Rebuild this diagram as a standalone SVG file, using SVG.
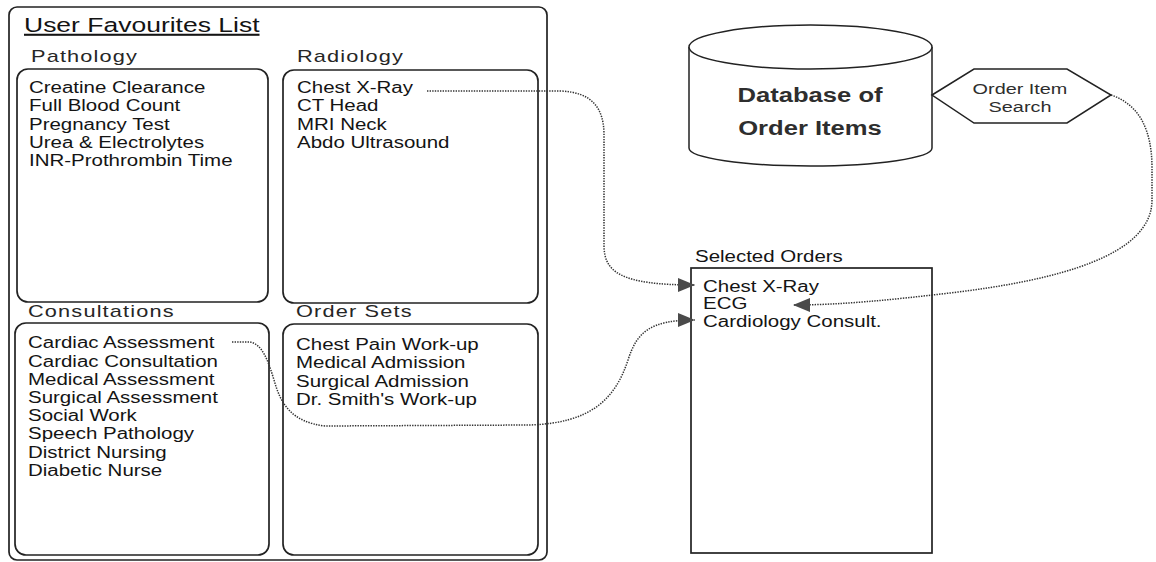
<svg xmlns="http://www.w3.org/2000/svg" width="1156" height="562" viewBox="0 0 1156 562">
<style>
text{font-family:"Liberation Sans",Arial,sans-serif;fill:#141414}
.item{font-size:16px}
.hdr{font-size:17px;letter-spacing:0.9px;fill:#262626}
.title{font-size:20.7px;text-decoration:underline}
.box{fill:none;stroke:#222;stroke-width:1.7}
.shape{fill:#fff;stroke:#222;stroke-width:1.5}
.conn{fill:none;stroke:#333;stroke-width:1.5;stroke-dasharray:1.4 1.2}
.db{font-size:20px;font-weight:bold;fill:#2e2e2e}
.srch{font-size:15.5px;fill:#2e2e2e}
</style>
<defs>
<marker id="arr" markerUnits="userSpaceOnUse" viewBox="0 0 17 14" refX="17" refY="7" markerWidth="17" markerHeight="14" orient="auto">
<path d="M0,0 L17,7 L0,14 Z" fill="#4a4a4a"/>
</marker>
</defs>
<rect width="1156" height="562" fill="#fff"/>

<g id="favourites">
<rect class="box" x="9" y="7" width="538" height="553" rx="8"/>
<g transform="translate(24,0) scale(1.28,1)"><text class="title" y="32">User Favourites List</text></g>
</g>

<g id="pathology">
<g transform="translate(31,0) scale(1.28,1)"><text class="hdr" y="62">Pathology</text></g>
<rect class="box" x="17" y="69" width="251" height="233" rx="11"/>
<g transform="translate(29,0) scale(1.28,1)" class="item">
<text y="93">Creatine Clearance</text>
<text y="111.3">Full Blood Count</text>
<text y="129.6">Pregnancy Test</text>
<text y="147.9">Urea &amp; Electrolytes</text>
<text y="166.2">INR-Prothrombin Time</text>
</g>
</g>

<g id="radiology">
<g transform="translate(297,0) scale(1.28,1)"><text class="hdr" y="62">Radiology</text></g>
<rect class="box" x="283" y="70" width="255" height="233" rx="11"/>
<g transform="translate(297,0) scale(1.28,1)" class="item">
<text y="93">Chest X-Ray</text>
<text y="111.3">CT Head</text>
<text y="129.6">MRI Neck</text>
<text y="147.9">Abdo Ultrasound</text>
</g>
</g>

<g id="consultations">
<g transform="translate(28,0) scale(1.28,1)"><text class="hdr" y="317">Consultations</text></g>
<rect class="box" x="15" y="323" width="254" height="232" rx="11"/>
<g transform="translate(28,0) scale(1.28,1)" class="item">
<text y="348.5">Cardiac Assessment</text>
<text y="366.7">Cardiac Consultation</text>
<text y="384.9">Medical Assessment</text>
<text y="403.1">Surgical Assessment</text>
<text y="421.3">Social Work</text>
<text y="439.5">Speech Pathology</text>
<text y="457.7">District Nursing</text>
<text y="475.9">Diabetic Nurse</text>
</g>
</g>

<g id="ordersets">
<g transform="translate(296,0) scale(1.28,1)"><text class="hdr" y="317">Order Sets</text></g>
<rect class="box" x="283" y="324" width="255" height="231" rx="11"/>
<g transform="translate(296,0) scale(1.28,1)" class="item">
<text y="350">Chest Pain Work-up</text>
<text y="368.3">Medical Admission</text>
<text y="386.6">Surgical Admission</text>
<text y="404.9">Dr. Smith's Work-up</text>
</g>
</g>

<g id="database">
<path class="shape" d="M689,47 V148 A121.5,18 0 0 0 932,148 V47"/>
<ellipse class="shape" cx="810.5" cy="47" rx="121.5" ry="22"/>
<g transform="translate(810,0) scale(1.28,1)" text-anchor="middle">
<text class="db" y="102">Database of</text>
<text class="db" y="135">Order Items</text>
</g>
</g>

<g id="search">
<polygon class="shape" points="932,95 974,69 1067,69 1111,95 1067,123 974,123"/>
<g transform="translate(1020,0) scale(1.28,1)" text-anchor="middle">
<text class="srch" y="94">Order Item</text>
<text class="srch" y="112">Search</text>
</g>
</g>

<g id="selected">
<g transform="translate(695,0) scale(1.28,1)"><text class="item" y="262">Selected Orders</text></g>
<rect class="box" x="691" y="268" width="241" height="285" stroke-width="2"/>
<g transform="translate(703,0) scale(1.28,1)" class="item">
<text y="292">Chest X-Ray</text>
<text y="309.5">ECG</text>
<text y="327">Cardiology Consult.</text>
</g>
</g>

<g id="connectors">
<path class="conn" marker-end="url(#arr)" d="M427,91 L560,91 C592,92 604,108 604,135 L604,245 C604,272 620,285 695,285"/>
<path class="conn" marker-end="url(#arr)" d="M1111,95 C1138,104 1152,128 1152,168 L1152,200 C1152,255 1060,280 950,293 C890,300 840,305 793,305"/>
<path class="conn" marker-end="url(#arr)" d="M232,342 L250,342 C262,344 268,360 274,380 C281,405 292,422 325,426 L530,425 C590,423 615,400 628,360 C637,332 650,320 695,320"/>
</g>
</svg>
